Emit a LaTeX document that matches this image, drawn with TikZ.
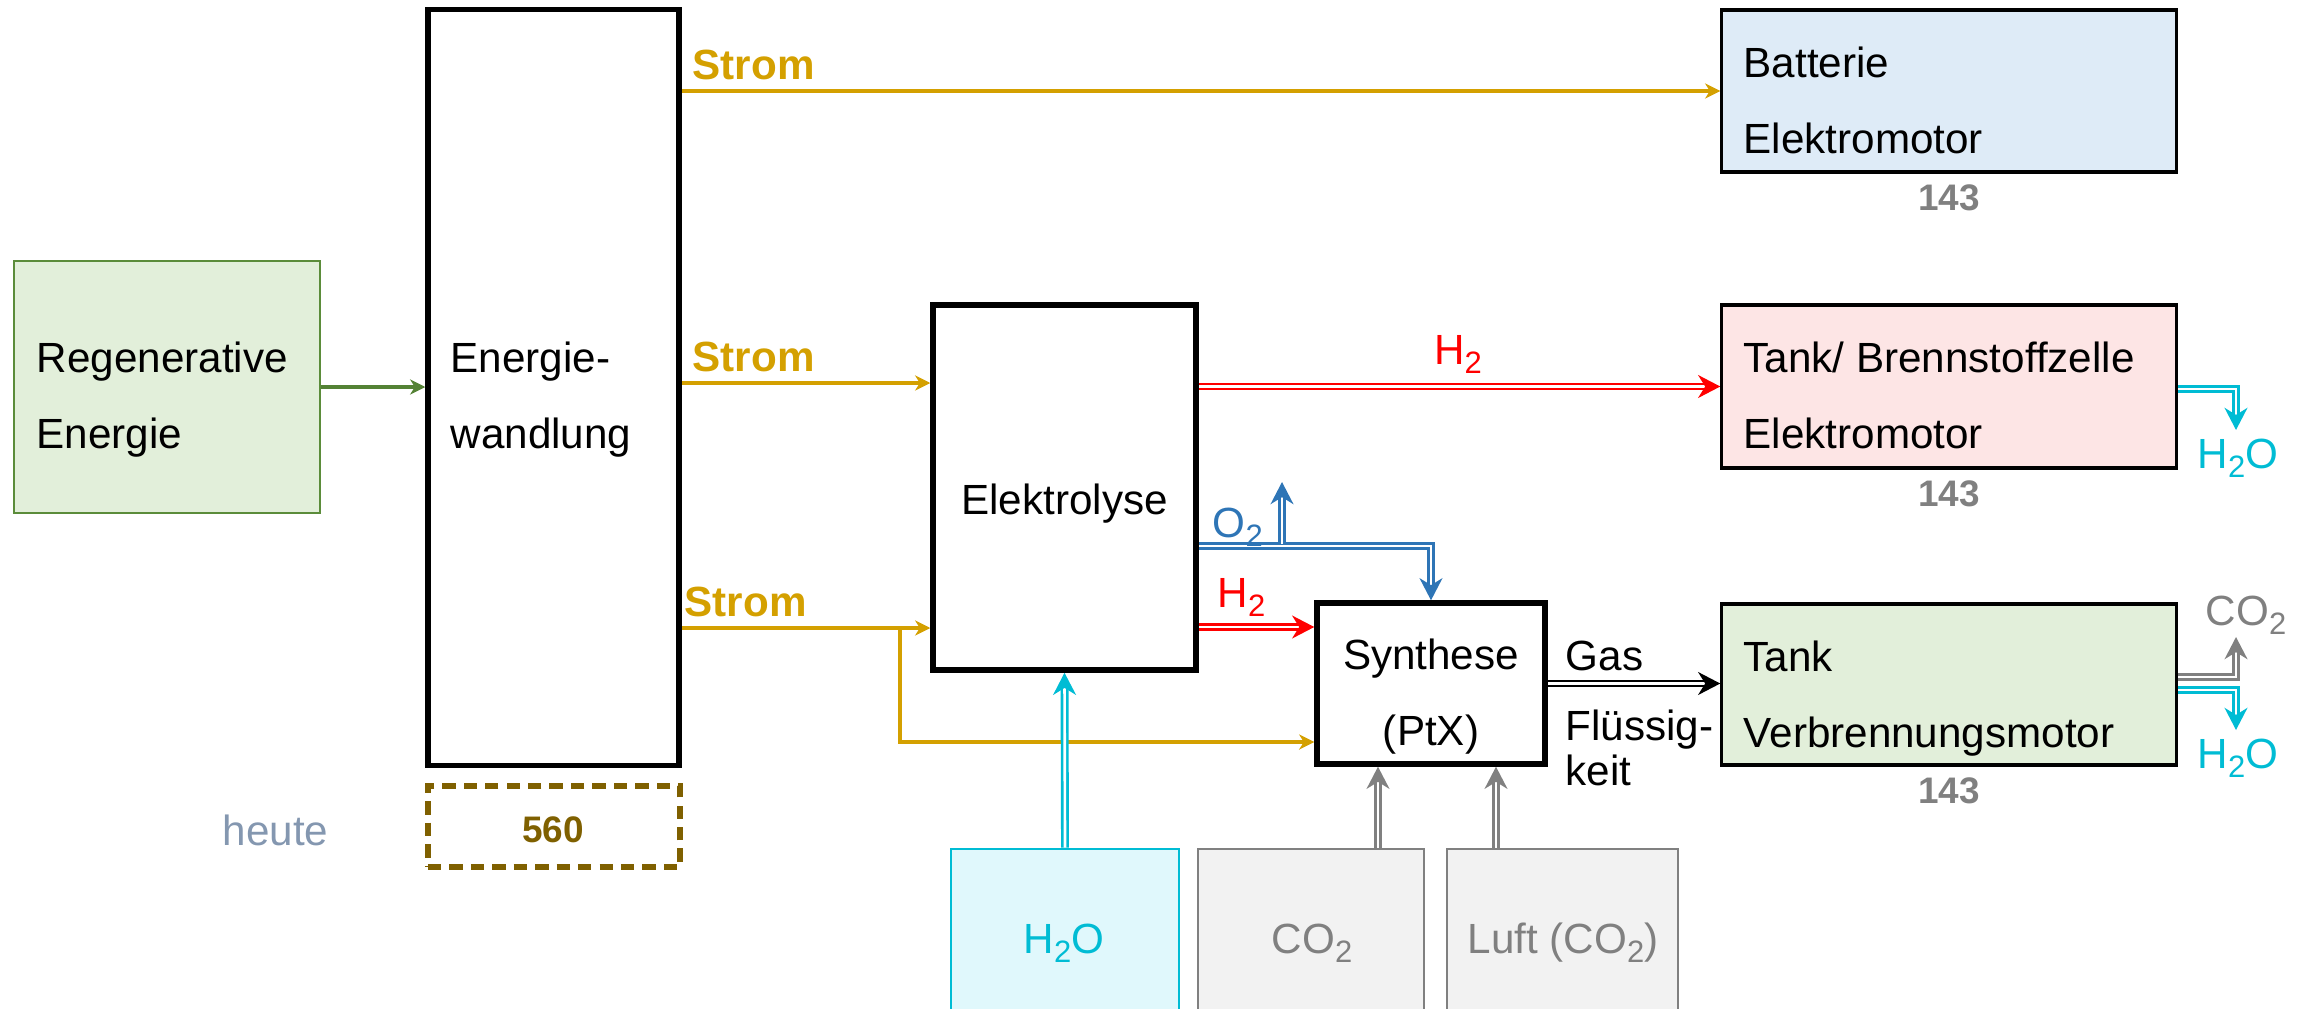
\documentclass[tikz,border=0pt]{standalone}
\usepackage{fontspec}
\setmainfont{Liberation Sans}
\usetikzlibrary{arrows.meta,backgrounds}
\definecolor{stromc}{HTML}{D4A000}
\definecolor{greenarr}{HTML}{548235}
\definecolor{regbord}{HTML}{5B8C3A}
\definecolor{regfill}{HTML}{E2EFDA}
\definecolor{batfill}{HTML}{DEEBF7}
\definecolor{bzfill}{HTML}{FDE5E5}
\definecolor{h2red}{HTML}{FF0000}
\definecolor{o2blue}{HTML}{2E75B6}
\definecolor{watc}{HTML}{00BCD4}
\definecolor{watfill}{HTML}{E0F8FC}
\definecolor{grayc}{HTML}{808080}
\definecolor{grayfill}{HTML}{F2F2F2}
\definecolor{heutec}{HTML}{8497B0}
\definecolor{darkgold}{HTML}{7F6000}
\newcommand\subtwo{\raisebox{-2.8pt}{\fontsize{8.8pt}{8.8pt}\selectfont 2}}
\begin{document}
\begin{tikzpicture}[x=0.01cm,y=-0.01cm,
  every node/.style={font=\fontsize{12pt}{14pt}\selectfont, inner sep=0pt},
  box/.style={draw, rectangle, inner sep=0pt},
  thickbox/.style={box, line width=1.5pt},
  thinbox/.style={box, line width=0.9pt},
  txt/.style={anchor=base west},
  ctxt/.style={anchor=base},
  bigtip/.style={-{Stealth[length=6.3pt,width=6.5pt,inset=2pt]}},
  smalltip/.style={-{Stealth[length=4.3pt,width=4.3pt,inset=1.3pt]}},
  flow/.style={line width=0.75pt, double=white, double distance=0.75pt, bigtip},
  strom/.style={draw=stromc, line width=1.35pt, smalltip},
  stromlbl/.style={anchor=base west, font=\fontsize{12pt}{14pt}\selectfont\bfseries, text=stromc},
  num/.style={anchor=base, font=\fontsize{10.5pt}{12pt}\selectfont\bfseries, text=grayc},
]
\useasboundingbox (0,0) rectangle (2308,1008);
\clip (0,0) rectangle (2308,1008);

% boxes
\node[box, line width=0.7pt, draw=regbord, fill=regfill, minimum width=3.06cm, minimum height=2.52cm] (reg) at (167,387) {};
\node[thickbox, minimum width=2.51cm, minimum height=7.55cm] (ew) at (553.5,387.5) {};
\node[box, draw=darkgold, line width=1.6pt, dash pattern=on 3.8pt off 2.3pt, minimum width=2.52cm, minimum height=0.81cm] (d560) at (554,826.5) {};
\node[thinbox, fill=batfill, minimum width=4.54cm, minimum height=1.62cm] (bat) at (1949,91) {};
\node[thinbox, fill=bzfill, minimum width=4.54cm, minimum height=1.63cm] (bz) at (1949,386.5) {};
\node[thinbox, fill=regfill, minimum width=4.54cm, minimum height=1.61cm] (vm) at (1949,684.5) {};
\node[thickbox, minimum width=2.63cm, minimum height=3.65cm] (ely) at (1064.5,487.5) {};
\node[thickbox, minimum width=2.28cm, minimum height=1.61cm] (syn) at (1431,683.5) {};
\node[box, draw=watc, fill=watfill, line width=0.7pt, minimum width=2.28cm, minimum height=1.81cm] (wat) at (1065,939.5) {};
\node[box, draw=grayc, fill=grayfill, line width=0.7pt, minimum width=2.26cm, minimum height=1.81cm] (co2) at (1311,939.5) {};
\node[box, draw=grayc, fill=grayfill, line width=0.7pt, minimum width=2.31cm, minimum height=1.81cm] (luft) at (1562.5,939.5) {};

% connectors
\begin{scope}[on background layer]
\draw[line width=1.35pt, draw=greenarr, smalltip] (reg.east) -- (reg.east -| ew.west);
\draw[strom] (bat.west -| ew.east) -- (bat.west);
\draw[strom] (ew.east |- 0,383) -- (ely.west |- 0,383);
\draw[strom] (ew.east |- 0,628) -- (ely.west |- 0,628);
\coordinate (jn) at (900,628);
\draw[strom] (jn) |- (syn.west |- 0,742);
\draw[flow, h2red] (ely.east |- bz.west) -- (bz.west);
\draw[flow, h2red] (ely.east |- 0,627) -- (syn.west |- 0,627);
\draw[flow, o2blue] (ely.east |- 0,546) -| (syn.north);
\coordinate (o2b) at (1282,544);
\coordinate (o2t) at (1282,482);
\draw[flow, o2blue] (o2b) -- (o2t);
\draw[flow, black] (syn.east) -- (syn.east -| vm.west);
\draw[flow, watc] (wat.north) -- (ely.south);
\draw[flow, grayc] (co2.north -| 1378,0) -- (syn.south -| 1378,0);
\draw[flow, grayc] (luft.north -| 1496,0) -- (syn.south -| 1496,0);
\coordinate (bzo) at (2236,430);
\draw[flow, watc] (bz.east |- 0,389) -| (bzo);
\coordinate (vmc) at (2236,637);
\draw[flow, grayc] (vm.east |- 0,677) -| (vmc);
\coordinate (vmw) at (2236,730);
\draw[flow, watc] (vm.east |- 0,690) -| (vmw);
\end{scope}

% texts
\node[txt] (tReg1) at (36,372) {Regenerative};
\node[txt] (tReg2) at (36,448) {Energie};
\node[txt] (tEw1) at (450,372) {Energie-};
\node[txt] (tEw2) at (450,448) {wandlung};
\node[stromlbl] (s1) at (692,79) {Strom};
\node[stromlbl] (s2) at (692,371) {Strom};
\node[stromlbl] (s3) at (684,616) {Strom};
\node[txt] (tBat1) at (1743,77) {Batterie};
\node[txt] (tBat2) at (1743,153) {Elektromotor};
\node[txt] (tBz1) at (1743,372) {Tank/ Brennstoffzelle};
\node[txt] (tBz2) at (1743,448) {Elektromotor};
\node[txt] (tVm1) at (1743,671) {Tank};
\node[txt] (tVm2) at (1743,747) {Verbrennungsmotor};
\node[ctxt] (tEly) at (1064.5,514) {Elektrolyse};
\node[ctxt] (tSyn1) at (1431,669) {Synthese};
\node[ctxt] (tSyn2) at (1431,745) {(PtX)};
\node[txt] (tGas) at (1565,670) {Gas};
\node[txt] (tFl1) at (1565,740) {Flüssig-};
\node[txt] (tFl2) at (1565,785) {keit};
\node[ctxt, text=h2red] (lH2a) at (1458,364) {H\subtwo};
\node[txt, text=o2blue] (lO2) at (1212,537) {O\subtwo};
\node[txt, text=h2red] (lH2b) at (1217,607) {H\subtwo};
\node[ctxt, text=watc] (lW1) at (2238,468) {H\subtwo O};
\node[ctxt, text=grayc] (lC1) at (2246,625) {CO\subtwo};
\node[ctxt, text=watc] (lW2) at (2238,768) {H\subtwo O};
\node[ctxt, text=watc] (lW3) at (1064,953) {H\subtwo O};
\node[ctxt, text=grayc] (lC2) at (1312,953) {CO\subtwo};
\node[ctxt, text=grayc] (lL) at (1563,953) {Luft (CO\subtwo)};
\node[num] (n1) at (1949,210) {143};
\node[num] (n2) at (1949,506) {143};
\node[num] (n3) at (1949,803) {143};
\node[num, text=darkgold] (n560) at (553,842) {560};
\node[txt, text=heutec] (heute) at (222,845) {heute};
\end{tikzpicture}
\end{document}
